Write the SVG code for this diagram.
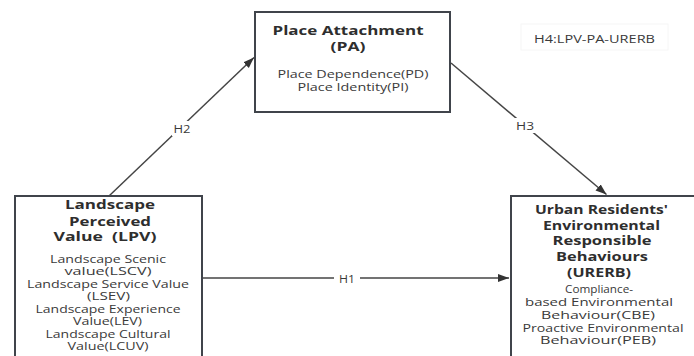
<svg xmlns="http://www.w3.org/2000/svg" width="694" height="356" viewBox="0 0 694 356">
<defs>
<style>
.box{fill:#fff;stroke:#40444b;stroke-width:2}
.edge{stroke:#454545;stroke-width:1.5;fill:none}
.t{font-family:"Open Sans","Liberation Sans",sans-serif;font-weight:700;font-size:12.5px;fill:#2e2e2e;text-anchor:middle}
.s{font-family:"Open Sans","Liberation Sans",sans-serif;font-size:11px;fill:#3a3a3a;text-anchor:middle}
.lbl{font-family:"Open Sans","Liberation Sans",sans-serif;font-size:11px;fill:#3a3a3a;text-anchor:middle}
</style>
<marker id="arr" markerUnits="userSpaceOnUse" markerWidth="12" markerHeight="10" refX="11" refY="4" orient="auto">
<path d="M0,0 L11,4 L0,8 Z" fill="#333"/>
</marker>
</defs>
<rect width="694" height="356" fill="#fff"/>
<g id="connectors">
<line class="edge" x1="109" y1="196" x2="254" y2="57.5" marker-end="url(#arr)"/>
<line class="edge" x1="451" y1="63" x2="606.5" y2="194.5" marker-end="url(#arr)"/>
<line class="edge" x1="202" y1="278" x2="509" y2="278" marker-end="url(#arr)"/>
<rect x="172" y="121" width="20" height="15" fill="#fff"/>
<text class="lbl" x="182" y="133" textLength="17" lengthAdjust="spacingAndGlyphs">H2</text>
<rect x="515" y="118" width="21" height="15" fill="#fff"/>
<text class="lbl" x="525" y="130" textLength="18" lengthAdjust="spacingAndGlyphs">H3</text>
<rect x="334" y="271" width="26" height="14" fill="#fff"/>
<text class="lbl" x="347" y="282.5" textLength="16" lengthAdjust="spacingAndGlyphs">H1</text>
</g>
<g id="PA">
<rect class="box" x="255" y="12" width="195" height="100"/>
<text class="t"><tspan x="348" y="35" textLength="151" lengthAdjust="spacingAndGlyphs">Place Attachment</tspan><tspan x="348" y="50.5" textLength="35" lengthAdjust="spacingAndGlyphs">(PA)</tspan></text>
<text class="s"><tspan x="353" y="78" textLength="151" lengthAdjust="spacingAndGlyphs">Place Dependence(PD)</tspan><tspan x="353" y="91" textLength="111" lengthAdjust="spacingAndGlyphs">Place Identity(PI)</tspan></text>
</g>
<g id="LPV">
<rect class="box" x="15" y="196" width="187" height="175"/>
<text class="t" xml:space="preserve"><tspan x="110" y="209" textLength="90" lengthAdjust="spacingAndGlyphs">Landscape</tspan><tspan x="110" y="225.5" textLength="82" lengthAdjust="spacingAndGlyphs">Perceived</tspan><tspan x="105" y="241" textLength="103" lengthAdjust="spacingAndGlyphs">Value  (LPV)</tspan></text>
<text class="s"><tspan x="108" y="262.5" textLength="116" lengthAdjust="spacingAndGlyphs">Landscape Scenic</tspan><tspan x="108" y="275" textLength="87" lengthAdjust="spacingAndGlyphs">value(LSCV)</tspan><tspan x="108" y="287.5" textLength="162" lengthAdjust="spacingAndGlyphs">Landscape Service Value</tspan><tspan x="108.5" y="300" textLength="43" lengthAdjust="spacingAndGlyphs">(LSEV)</tspan><tspan x="108" y="312.5" textLength="145" lengthAdjust="spacingAndGlyphs">Landscape Experience</tspan><tspan x="107.5" y="325" textLength="69" lengthAdjust="spacingAndGlyphs">Value(LEV)</tspan><tspan x="108" y="337.5" textLength="125" lengthAdjust="spacingAndGlyphs">Landscape Cultural</tspan><tspan x="108" y="350" textLength="81" lengthAdjust="spacingAndGlyphs">Value(LCUV)</tspan></text>
</g>
<g id="URERB">
<rect class="box" x="511" y="196" width="200" height="175"/>
<text class="t"><tspan x="601.5" y="214" textLength="133" lengthAdjust="spacingAndGlyphs">Urban Residents'</tspan><tspan x="601.5" y="229.7" textLength="117" lengthAdjust="spacingAndGlyphs">Environmental</tspan><tspan x="602" y="245.3" textLength="99" lengthAdjust="spacingAndGlyphs">Responsible</tspan><tspan x="602" y="261" textLength="92" lengthAdjust="spacingAndGlyphs">Behaviours</tspan><tspan x="599" y="276.5" textLength="64" lengthAdjust="spacingAndGlyphs">(URERB)</tspan></text>
<text class="s"><tspan x="599" y="293.3" textLength="68" lengthAdjust="spacingAndGlyphs">Compliance-</tspan><tspan x="599" y="306" textLength="148" lengthAdjust="spacingAndGlyphs">based Environmental</tspan><tspan x="598" y="319.3" textLength="114" lengthAdjust="spacingAndGlyphs">Behaviour(CBE)</tspan><tspan x="603" y="331.7" textLength="161" lengthAdjust="spacingAndGlyphs">Proactive Environmental</tspan><tspan x="598" y="344.3" textLength="116" lengthAdjust="spacingAndGlyphs">Behaviour(PEB)</tspan></text>
</g>
<g id="H4">
<rect x="521" y="24" width="147" height="26" fill="none" stroke="#f6f6f6" stroke-width="1"/>
<text class="s" x="594.5" y="42.5" textLength="121" lengthAdjust="spacingAndGlyphs">H4:LPV-PA-URERB</text>
</g>
</svg>
